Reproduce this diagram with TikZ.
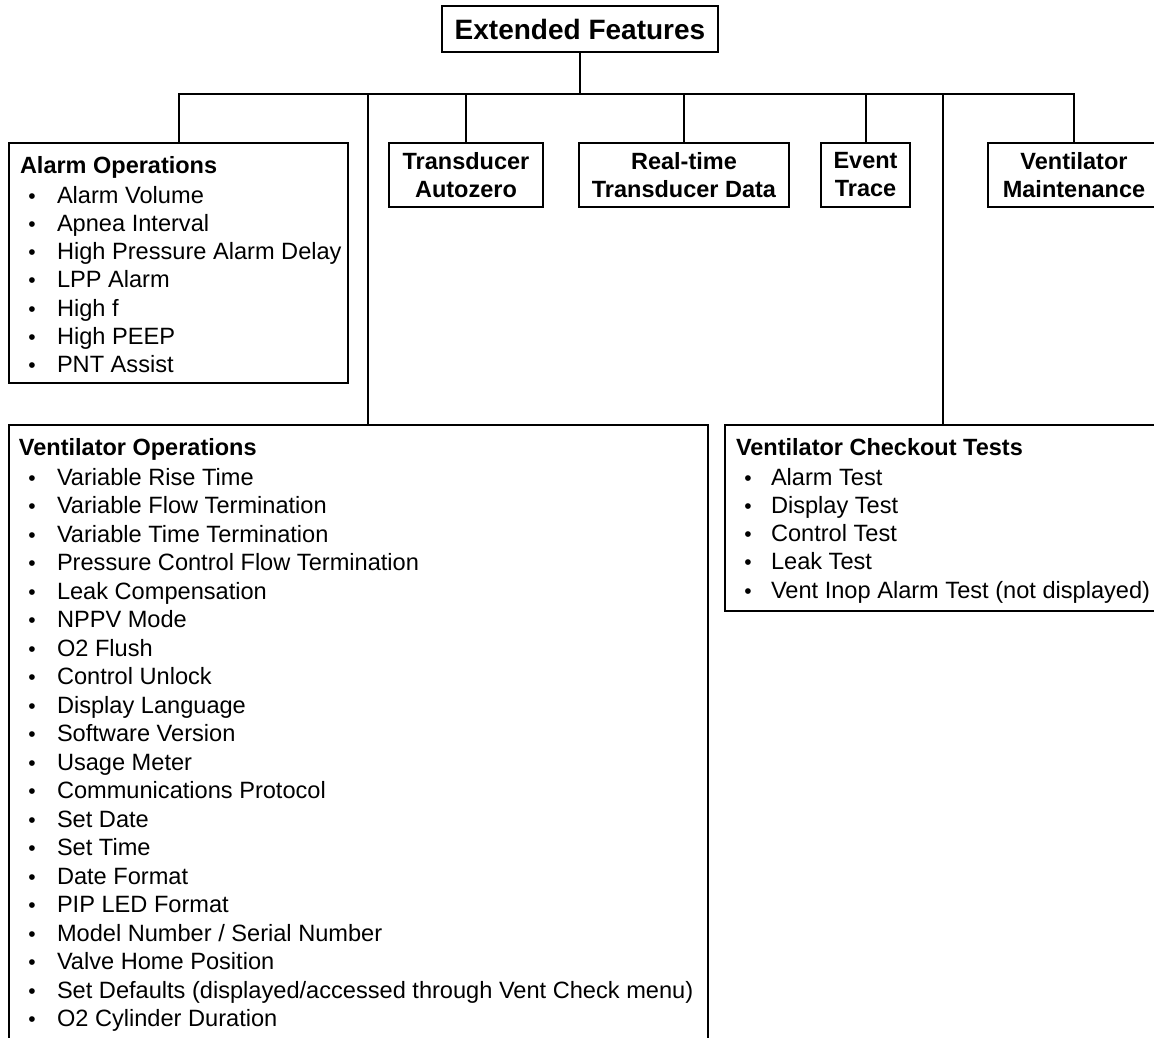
\documentclass[tikz,border=0pt]{standalone}
\usepackage{fontspec}
\setmainfont{Liberation Sans}
\begin{document}
\begin{tikzpicture}[x=1pt,y=-1pt,line width=2pt,
  box/.style={draw,line width=2pt,inner sep=0pt,outer sep=0pt,anchor=north west},
  tbox/.style={box,anchor=north west,align=center,font=\fontsize{23.5}{28}\selectfont\bfseries},
  itemtext/.style={anchor=base west,inner sep=0pt,font=\fontsize{23.6}{28}\selectfont},
  bul/.style={anchor=base,inner sep=0pt,font=\fontsize{21}{28}\selectfont},
  head/.style={anchor=base west,inner sep=0pt,font=\fontsize{23.5}{28}\selectfont\bfseries}]
\useasboundingbox (0,0) rectangle (1154,1038);
\clip (0,0) rectangle (1154,1038);
\fill[white] (0,0) rectangle (1154,1038);

% top box
\node[box,minimum width=276pt,minimum height=46pt,font=\fontsize{28}{32}\selectfont\bfseries] (ef) at (442,6) {Extended Features};

% second row boxes
\node[box,minimum width=339pt,minimum height=240pt] (ao) at (9,143) {};
\node[tbox,minimum width=154pt,minimum height=64pt] (ta) at (389,143) {Transducer\\Autozero};
\node[tbox,minimum width=210pt,minimum height=64pt] (rt) at (579,143) {Real-time\\Transducer Data};
\node[tbox,minimum width=89pt,minimum height=64pt] (et) at (821,143) {Event\\Trace};
\node[tbox,minimum width=172pt,minimum height=64pt] (vm) at (988,143) {Ventilator\\Maintenance};

% lower boxes
\node[box,minimum width=699pt,minimum height=640pt] (vo) at (9,425) {};
\node[box,minimum width=435pt,minimum height=186pt] (vc) at (725,425) {};

% connectors
\coordinate (bus) at (0,94);
\coordinate (vod) at (368,425);
\coordinate (vcd) at (943,425);
\draw (ef.south) -- (ef.south |- bus);
\draw (ao.north) -- (ao.north |- bus) -- (vm.north |- bus) -- (vm.north);
\draw (vod) -- (vod |- bus);
\draw (ta.north) -- (ta.north |- bus);
\draw (rt.north) -- (rt.north |- bus);
\draw (et.north) -- (et.north |- bus);
\draw (vcd) -- (vcd |- bus);

% Alarm Operations
\node[head] (aoh) at (19,173) {Alarm Operations};
\foreach \t [count=\i from 0] in {Alarm Volume,Apnea Interval,High Pressure Alarm Delay,LPP Alarm,High f,High PEEP,PNT Assist}{
  \node[bul] (aob\i) at (32,203+28.33*\i) {•};
  \node[itemtext] (aot\i) at (56,203+28.33*\i) {\t};
}

% Ventilator Operations
\node[head] (voh) at (18,455) {Ventilator Operations};
\foreach \t [count=\i from 0] in {Variable Rise Time,Variable Flow Termination,Variable Time Termination,Pressure Control Flow Termination,Leak Compensation,NPPV Mode,O2 Flush,Control Unlock,Display Language,Software Version,Usage Meter,Communications Protocol,Set Date,Set Time,Date Format,PIP LED Format,Model Number / Serial Number,Valve Home Position,{Set Defaults (displayed/accessed through Vent Check menu)},O2 Cylinder Duration}{
  \node[bul] (vob\i) at (32,485+28.5*\i) {•};
  \node[itemtext] (vot\i) at (56,485+28.5*\i) {\t};
}

% Ventilator Checkout Tests
\node[head] (vch) at (735,455) {Ventilator Checkout Tests};
\foreach \t [count=\i from 0] in {Alarm Test,Display Test,Control Test,Leak Test,Vent Inop Alarm Test (not displayed)}{
  \node[bul] (vcb\i) at (748,485+28.25*\i) {•};
  \node[itemtext] (vct\i) at (770,485+28.25*\i) {\t};
}
\end{tikzpicture}
\end{document}
